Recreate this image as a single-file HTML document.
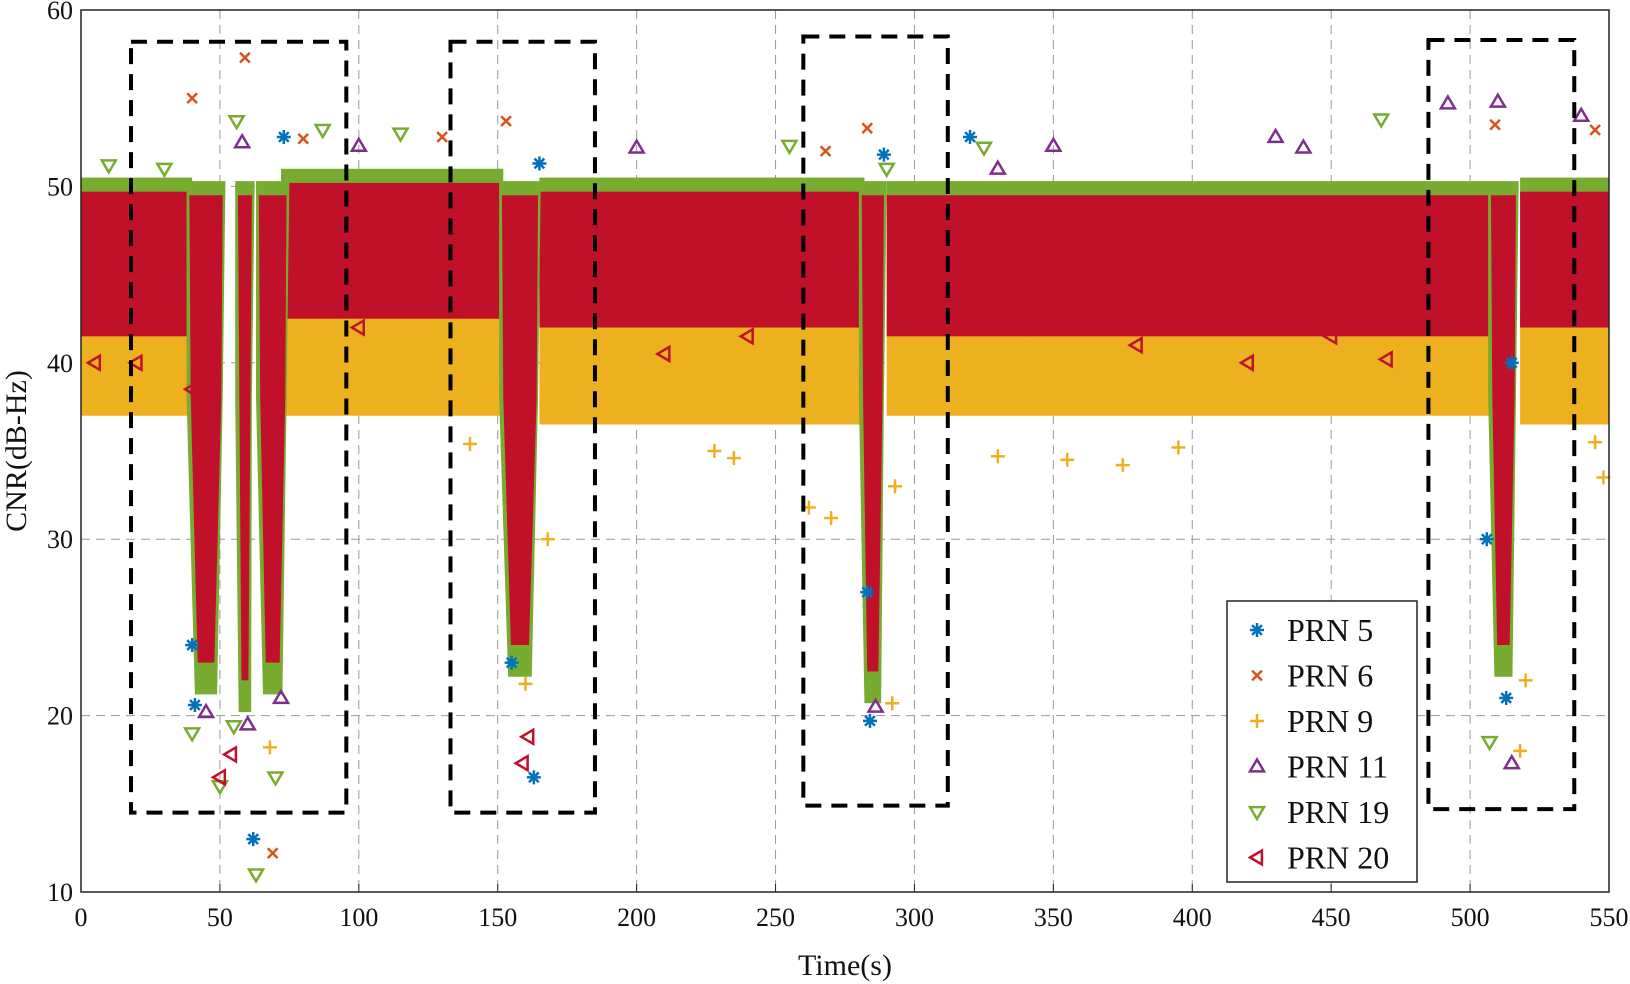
<!DOCTYPE html>
<html><head><meta charset="utf-8"><style>
html,body{margin:0;padding:0;background:#fff}
svg{display:block;font-family:"Liberation Serif",serif}
</style></head><body>
<svg id="c" width="1630" height="984"></svg>
<script>
// ---- data ----
const xTicks=[0,50,100,150,200,250,300,350,400,450,500,550];
const yTicks=[10,20,30,40,50,60];
const bandStart=[0,72,165,290,518];
const bandEnd=[40,152,282,508,550];
const redHi=[50.5,51,50.5,50.3,50.5];
const redLo=[41.5,42.5,42,41.5,42];
const yelHi=[43,43.5,43,43.5,43];
const yelLo=[37,37,36.5,37,36.5];
const dipT=[45,59,69,158,285,512];
const dipW=[12,5,10,13,8,9];
const dipBottom=[22,21,22,23,21.5,23];
const prn5=[[41,20.6],[62,13],[163,16.5],[284,19.7],[289,51.8],[320,52.8],[513,21],[165,51.3],[73,52.8],[40,24],[155,23],[283,27],[506,30],[515,40]];
const prn6=[[59,57.3],[40,55],[153,53.7],[283,53.3],[69,12.2],[509,53.5],[545,53.2],[268,52],[80,52.7],[130,52.8]];
const prn9=[[262,31.8],[270,31.2],[292,20.7],[518,18],[548,33.5],[68,18.2],[140,35.4],[330,34.7],[395,35.2],[160,21.8],[168,30],[293,33],[520,22],[355,34.5],[375,34.2],[228,35],[235,34.6],[545,35.5]];
const prn11=[[492,54.7],[510,54.8],[540,54],[58,52.5],[45,20.2],[286,20.5],[515,17.3],[430,52.8],[350,52.3],[100,52.3],[200,52.2],[330,51],[440,52.2],[60,19.5],[72,21]];
const prn19=[[63,11],[50,16],[40,19],[468,53.8],[56,53.7],[87,53.2],[255,52.3],[507,18.5],[70,16.5],[115,53],[325,52.2],[10,51.2],[30,51],[290,51],[55,19.4]];
const prn20=[[50,16.5],[54,17.8],[159,17.3],[161,18.8],[40,38.5],[5,40],[210,40.5],[420,40],[470,40.2],[100,42],[240,41.5],[380,41],[450,41.5],[20,40],[340,42]];
const boxes=[[18,95.5,14.5,58.2],[133,185,14.5,58.2],[260,312,14.9,58.5],[485,537.5,14.7,58.3]];
// ---- axes ----
const L=81,R=1609,T=10,B=892;
const X=t=>L+t*(R-L)/550;
const Y=v=>B-(v-10)*(B-T)/50;
const NS="http://www.w3.org/2000/svg";
const svg=document.getElementById('c');
function mk(tag,attrs,parent){const e=document.createElementNS(NS,tag);for(const k in attrs)e.setAttribute(k,attrs[k]);(parent||svg).appendChild(e);return e;}
const C={b:'#0072bd',o:'#d95319',y:'#edb120',p:'#7e2f8e',g:'#77ac30',r:'#c0102a'};
xTicks.forEach(t=>{if(t>0&&t<550){const l=mk('line',{x1:X(t),x2:X(t),y1:T,y2:B,stroke:'#999','stroke-dasharray':'9,6','stroke-width':1});
}});
yTicks.forEach(v=>{if(v>10&&v<60){const l=mk('line',{x1:L,x2:R,y1:Y(v),y2:Y(v),stroke:'#999','stroke-dasharray':'9,6','stroke-width':1});
}});
for(let i=0;i<bandStart.length;i++){
 const y=mk('rect',{x:X(bandStart[i]),y:Y(yelHi[i]),width:X(bandEnd[i])-X(bandStart[i]),height:Y(yelLo[i])-Y(yelHi[i]),fill:C.y});
 
 const g=mk('rect',{x:X(bandStart[i]),y:Y(redHi[i]),width:X(bandEnd[i])-X(bandStart[i]),height:Y(redHi[i]-1.2)-Y(redHi[i]),fill:C.g});
 
 const r=mk('rect',{x:X(bandStart[i]),y:Y(redHi[i]-0.8),width:X(bandEnd[i])-X(bandStart[i]),height:Y(redLo[i])-Y(redHi[i]-0.8),fill:C.r});
 
}
for(let i=0;i<dipT.length;i++){
 const t=dipT[i],w=dipW[i],bt=dipBottom[i];
 const pts=[[t-w/2-1,50.3],[t+w/2+1,50.3],[t+w/2,38],[t+w/4+1,bt-0.8],[t-w/4-1,bt-0.8],[t-w/2-1,38]];
 const g=mk('polygon',{points:pts.map(p=>X(p[0])+','+Y(p[1])).join(' '),fill:C.g});
 
 const p2=[[t-w/2,49.5],[t+w/2,49.5],[t+w/2-0.5,38],[t+w/4,bt+1],[t-w/4,bt+1],[t-w/2+0.5,38]];
 const r=mk('polygon',{points:p2.map(p=>X(p[0])+','+Y(p[1])).join(' '),fill:C.r});
 
}
function marker(kind,x,y,parent){
 const s=7;
 if(kind==='b'){const g=mk('g',{stroke:C.b,'stroke-width':2.5},parent);[[0,s],[s,0],[s*.7,s*.7],[s*.7,-s*.7]].forEach(d=>mk('line',{x1:x-d[0],y1:y-d[1],x2:x+d[0],y2:y+d[1]},g));return g;}
 if(kind==='o'){const g=mk('g',{stroke:C.o,'stroke-width':2.5},parent);mk('line',{x1:x-s*.7,y1:y-s*.7,x2:x+s*.7,y2:y+s*.7},g);mk('line',{x1:x-s*.7,y1:y+s*.7,x2:x+s*.7,y2:y-s*.7},g);return g;}
 if(kind==='y'){const g=mk('g',{stroke:C.y,'stroke-width':2.5},parent);mk('line',{x1:x-s,y1:y,x2:x+s,y2:y},g);mk('line',{x1:x,y1:y-s,x2:x,y2:y+s},g);return g;}
 if(kind==='p')return mk('polygon',{points:`${x},${y-s} ${x+s},${y+s*.7} ${x-s},${y+s*.7}`,fill:'none',stroke:C.p,'stroke-width':2.5},parent);
 if(kind==='g')return mk('polygon',{points:`${x},${y+s} ${x+s},${y-s*.7} ${x-s},${y-s*.7}`,fill:'none',stroke:C.g,'stroke-width':2.5},parent);
 return mk('polygon',{points:`${x-s},${y} ${x+s*.7},${y-s} ${x+s*.7},${y+s}`,fill:'none',stroke:C.r,'stroke-width':2.5},parent);
}
[['b',prn5],['o',prn6],['y',prn9],['p',prn11],['g',prn19],['r',prn20]].forEach(([k,arr])=>arr.forEach(p=>{
 const m=marker(k,X(p[0]),Y(p[1]));
 
}));
boxes.forEach(b=>{const r=mk('rect',{x:X(b[0]),y:Y(b[3]),width:X(b[1])-X(b[0]),height:Y(b[2])-Y(b[3]),fill:'none',stroke:'#000','stroke-width':4,'stroke-dasharray':'16,10'});
});
const f=mk('rect',{x:L,y:T,width:R-L,height:B-T,fill:'none',stroke:'#222','stroke-width':1.5});

xTicks.forEach(t=>{const tx=mk('text',{x:X(t),y:B+34,'text-anchor':'middle','font-size':26,fill:'#111'});tx.textContent=t;

const tl=mk('line',{x1:X(t),x2:X(t),y1:B,y2:B-8,stroke:'#222'});});
yTicks.forEach(v=>{const tx=mk('text',{x:L-8,y:Y(v)+9,'text-anchor':'end','font-size':26,fill:'#111'});tx.textContent=v;
});
const xl=mk('text',{x:(L+R)/2,y:975,'text-anchor':'middle','font-size':30,fill:'#111'});xl.textContent='Time(s)';

const yl=mk('text',{x:0,y:0,'text-anchor':'middle','font-size':30,fill:'#111',transform:`translate(26,${Y(35)}) rotate(-90)`});yl.textContent='CNR(dB-Hz)';

const lg=mk('g',{});
mk('rect',{x:1227,y:601,width:190,height:281,fill:'#fff',stroke:'#222','stroke-width':1.5},lg);
const names=['PRN 5','PRN 6','PRN 9','PRN 11','PRN 19','PRN 20'],kinds=['b','o','y','p','g','r'];
names.forEach((n,i)=>{const cy=630+i*45.5;const m=marker(kinds[i],1257,cy,lg);

const t=mk('text',{x:1287,y:cy+11,'font-size':32,fill:'#111'},lg);t.textContent=n;
});
</script>
</body></html>
